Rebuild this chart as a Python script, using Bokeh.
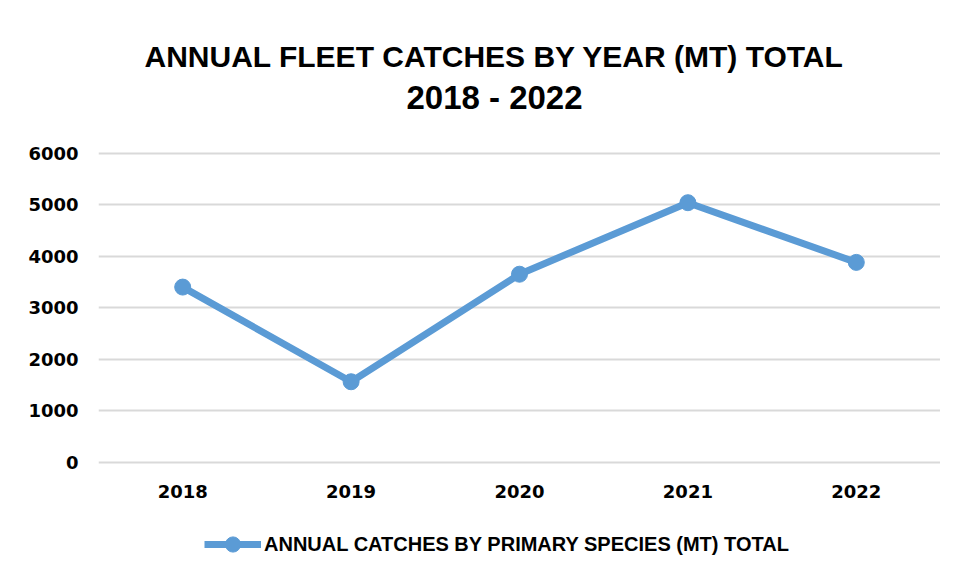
from bokeh.plotting import figure
from bokeh.models import Legend, LegendItem, Label, Range1d, FixedTicker, FactorRange
from bokeh.embed import file_html
from bokeh.resources import INLINE

years = ["2018", "2019", "2020", "2021", "2022"]
catches = [3400, 1560, 3650, 5040, 3880]
y_ticks = [0, 1000, 2000, 3000, 4000, 5000, 6000]
title_line1 = "ANNUAL FLEET CATCHES BY YEAR (MT) TOTAL"
title_line2 = "2018 - 2022"
series_name = "ANNUAL CATCHES BY PRIMARY SPECIES (MT) TOTAL"

BLUE = "#5B9BD5"
GRID = "#D9D9D9"
TFONT = "Liberation Sans"

# frame spans the full figure height; the extra range above/below the data
# hosts the title and the legend
p = figure(x_range=FactorRange(*years), y_range=Range1d(-1992, 8970),
           width=940, height=564, output_backend="svg", toolbar_location=None,
           title=None, min_border_left=98, min_border_right=0,
           min_border_top=0, min_border_bottom=0)

r_line = p.line(years, catches, line_color=BLUE, line_width=7)
r_pts = p.scatter(years, catches, size=16, fill_color=BLUE, line_color=BLUE)

p.yaxis.ticker = FixedTicker(ticks=y_ticks)
p.xaxis.fixed_location = 0
for ax in (p.xaxis[0], p.yaxis[0]):
    ax.axis_line_color = None
    ax.major_tick_line_color = None
    ax.minor_tick_line_color = None
    ax.major_label_text_font = "DejaVu Sans"
    ax.major_label_text_font_style = "bold"
    ax.major_label_text_font_size = "18px"
    ax.major_label_text_color = "black"
p.yaxis.major_label_standoff = 14
p.xaxis.major_label_standoff = 17

p.xgrid.grid_line_color = None
p.ygrid.grid_line_color = GRID
p.ygrid.grid_line_width = 2
p.outline_line_color = None

mid = len(years) / 2
p.add_layout(Label(x=mid, y=7883, x_offset=-25, text=title_line1,
                   text_align="center", text_baseline="middle",
                   text_font=TFONT, text_font_size="30px", text_font_style="bold",
                   text_color="black"))
p.add_layout(Label(x=mid, y=7087, x_offset=-25, text=title_line2,
                   text_align="center", text_baseline="middle",
                   text_font=TFONT, text_font_size="33px", text_font_style="bold",
                   text_color="black"))

legend = Legend(items=[LegendItem(label=series_name, renderers=[r_line, r_pts])],
                orientation="horizontal", location=(106, 1),
                label_text_font=TFONT, label_text_font_size="20px",
                label_text_font_style="bold", label_text_color="black",
                glyph_width=57, glyph_height=38, label_standoff=3,
                border_line_color=None, background_fill_alpha=0,
                padding=0, margin=0)
p.add_layout(legend, "center")

open("out.html", "w").write(file_html(p, INLINE))
